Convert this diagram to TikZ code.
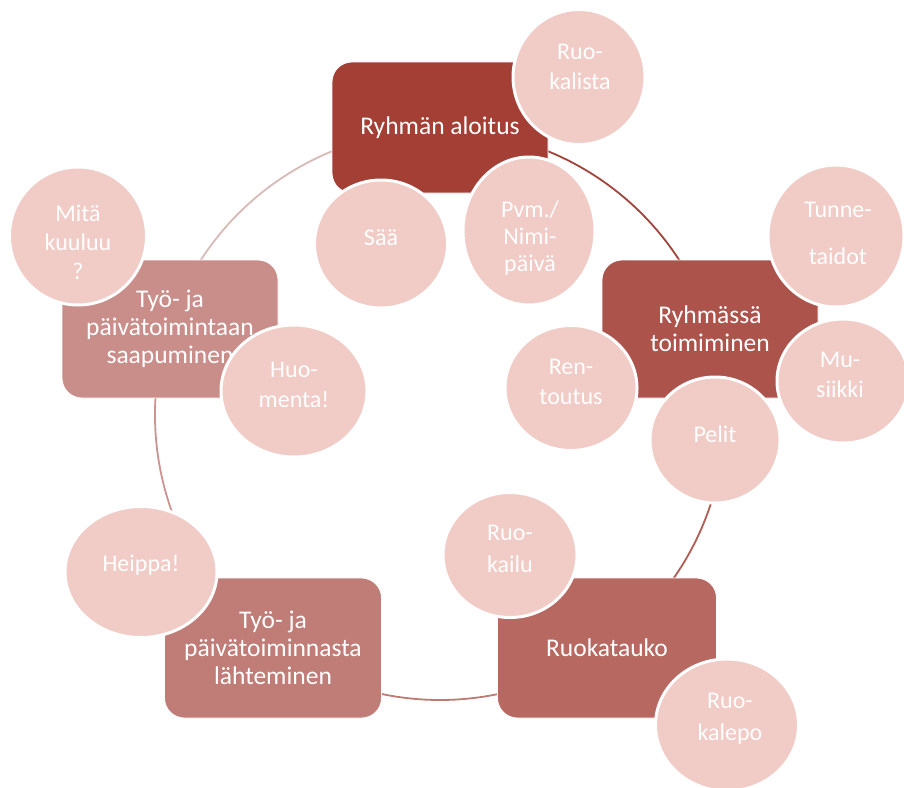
\documentclass[tikz,border=0pt]{standalone}
\usepackage{fontspec}
\setmainfont{Carlito}
\usetikzlibrary{shapes.geometric}
\definecolor{cA}{RGB}{163,63,53}
\definecolor{cB}{RGB}{172,83,75}
\definecolor{cC}{RGB}{183,105,97}
\definecolor{cD}{RGB}{192,124,118}
\definecolor{cE}{RGB}{201,142,137}
\definecolor{bubfill}{RGB}{241,203,198}
\definecolor{rA}{RGB}{163,68,60}
\definecolor{rB}{RGB}{178,92,84}
\definecolor{rC}{RGB}{192,122,116}
\definecolor{rD}{RGB}{203,148,144}
\definecolor{rE}{RGB}{216,186,184}
\begin{document}
\begin{tikzpicture}[x=1pt,y=1pt,
  box/.style={rectangle, rounded corners=20pt, draw=white, line width=0.8pt, text=white,
    font=\fontsize{25.5}{28}\selectfont, align=center, inner sep=0pt},
  bub/.style={ellipse, fill=bubfill, draw=white, line width=3pt, inner sep=0pt},
  btxt/.style={text=white, font=\fontsize{24}{30}\selectfont, align=center, inner sep=0pt},
  ring/.style={line width=1.8pt}]
\useasboundingbox (0,0) rectangle (904,-787);
\fill[white] (0,0) rectangle (904,-787);
\coordinate (c) at (440,-415);
% ring segments
\draw[ring, draw=rA] ([shift={(90:285)}]c) arc[start angle=90, end angle=18, radius=285];
\draw[ring, draw=rB] ([shift={(18:285)}]c) arc[start angle=18, end angle=-54, radius=285];
\draw[ring, draw=rC] ([shift={(-54:285)}]c) arc[start angle=-54, end angle=-126, radius=285];
\draw[ring, draw=rD] ([shift={(-126:285)}]c) arc[start angle=-126, end angle=-198, radius=285];
\draw[ring, draw=rE] ([shift={(162:285)}]c) arc[start angle=162, end angle=90, radius=285];
% boxes
\node[box, fill=cA, minimum width=216pt, minimum height=131pt] (b1) at (440,-127.5) {Ryhmän aloitus};
\node[box, fill=cB, minimum width=216pt, minimum height=138pt] (b2) at (710,-329) {Ryhmässä\\toimiminen};
\node[box, fill=cC, minimum width=219pt, minimum height=140pt] (b3) at (607,-648) {Ruokatauko};
\node[box, fill=cD, minimum width=217pt, minimum height=140pt] (b4) at (273,-648) {Työ- ja\\päivätoiminnasta\\lähteminen};
\node[box, fill=cE, minimum width=216pt, minimum height=138pt] (b5) at (170,-329) {Työ- ja\\päivätoimintaan\\saapuminen};
% bubbles
\node[bub, minimum width=132pt, minimum height=135pt] (ruokalista) at (579,-77) {};
\node[btxt] (t-ruokalista) at (580,-67) {Ruo-\\kalista};
\node[bub, minimum width=133pt, minimum height=128pt] (saa) at (381,-244) {};
\node[btxt] (t-saa) at (381,-238) {Sää};
\node[bub, minimum width=132pt, minimum height=148pt] (pvm) at (529,-231) {};
\node[btxt, font=\fontsize{24}{27}\selectfont] (t-pvm) at (530,-238) {Pvm./\\Nimi-\\päivä};
\node[bub, minimum width=136pt, minimum height=142pt] (tunne) at (836,-236) {};
\node[btxt] (t-tunne) at (838,-233) {Tunne-\\[17pt]taidot};
\node[bub, minimum width=132pt, minimum height=124pt] (musiikki) at (843,-381) {};
\node[btxt] (t-musiikki) at (840,-375) {Mu-\\siikki};
\node[bub, minimum width=132pt, minimum height=125pt] (rentoutus) at (571,-388) {};
\node[btxt] (t-rentoutus) at (571,-382) {Ren-\\toutus};
\node[bub, minimum width=130pt, minimum height=126pt] (pelit) at (715,-440) {};
\node[btxt] (t-pelit) at (715,-434) {Pelit};
\node[bub, minimum width=137pt, minimum height=138pt] (mita) at (78,-236) {};
\node[btxt, font=\fontsize{24}{29}\selectfont] (t-mita) at (78,-242) {Mitä\\kuuluu\\?};
\node[bub, minimum width=146pt, minimum height=132pt] (huomenta) at (294,-391) {};
\node[btxt] (t-huomenta) at (294,-385) {Huo-\\menta!};
\node[bub, minimum width=134pt, minimum height=125pt] (ruokailu) at (510,-555) {};
\node[btxt, font=\fontsize{24}{32}\selectfont] (t-ruokailu) at (510,-549) {Ruo-\\kailu};
\node[bub, minimum width=143pt, minimum height=132pt] (ruokalepo) at (727,-725) {};
\node[btxt, font=\fontsize{24}{32}\selectfont] (t-ruokalepo) at (730,-719) {Ruo-\\kalepo};
\node[bub, minimum width=152pt, minimum height=131pt] (heippa) at (141,-572) {};
\node[btxt] (t-heippa) at (141,-565) {Heippa!};
\end{tikzpicture}
\end{document}
